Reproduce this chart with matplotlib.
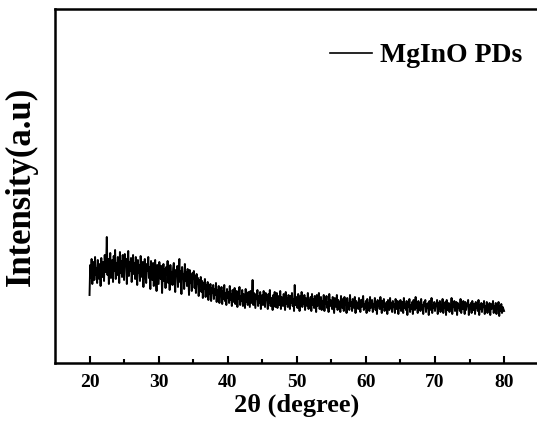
import numpy as np
import matplotlib
matplotlib.use("Agg")
import matplotlib.pyplot as plt

# XRD pattern, 20-80 deg in 0.1 deg steps (arb. units)
two_theta_start = 20.0
two_theta_step = 0.1
intensity = [
    68, 98, 85, 104, 79, 92, 101, 83, 106, 88,
    95, 80, 103, 90, 84, 99, 77, 105, 93, 86,
    101, 82, 108, 91, 97, 126, 88, 104, 79, 99,
    110, 85, 96, 103, 81, 107, 92, 113, 84, 100,
    88, 106, 95, 80, 111, 90, 102, 86, 108, 94,
    83, 109, 97, 104, 79, 99, 112, 87, 101, 92,
    105, 81, 96, 108, 89, 100, 84, 106, 93, 78,
    103, 90, 98, 82, 107, 94, 86, 101, 76, 97,
    104, 88, 80, 99, 92, 106, 85, 96, 74, 102,
    91, 83, 100, 77, 95, 103, 86, 72, 98, 89,
    79, 101, 93, 84, 97, 70, 90, 99, 82, 94,
    75, 96, 88, 102, 80, 92, 73, 98, 86, 91,
    78, 95, 100, 83, 71, 93, 87, 97, 76, 90,
    104, 81, 92, 69, 96, 85, 89, 74, 99, 82,
    91, 77, 94, 86, 68, 93, 80, 88, 72, 90,
    84, 92, 75, 87, 70, 89, 79, 85, 67, 83,
    77, 86, 71, 82, 65, 80, 74, 84, 66, 78,
    72, 81, 63, 76, 69, 79, 62, 75, 70, 78,
    64, 74, 68, 80, 61, 73, 66, 77, 60, 71,
    67, 76, 59, 72, 64, 78, 62, 70, 58, 74,
    65, 71, 60, 77, 63, 69, 57, 73, 66, 61,
    75, 59, 68, 72, 56, 70, 64, 76, 58, 67,
    62, 73, 57, 69, 65, 55, 74, 61, 68, 58,
    71, 63, 56, 72, 60, 66, 83, 58, 70, 62,
    55, 69, 64, 73, 57, 67, 60, 71, 54, 65,
    68, 58, 72, 61, 56, 70, 63, 66, 54, 69,
    60, 73, 57, 65, 62, 53, 68, 59, 71, 56,
    64, 70, 55, 67, 61, 58, 72, 54, 66, 60,
    57, 69, 63, 53, 71, 59, 65, 56, 68, 62,
    54, 67, 60, 70, 57, 64, 52, 78, 58, 66,
    61, 55, 69, 63, 52, 67, 58, 71, 56, 64,
    59, 68, 53, 65, 62, 57, 70, 54, 63, 60,
    66, 52, 69, 58, 64, 55, 67, 61, 51, 68,
    57, 63, 70, 54, 60, 66, 53, 62, 58, 68,
    52, 64, 59, 67, 55, 61, 51, 69, 57, 63,
    60, 54, 66, 58, 50, 65, 62, 56, 68, 53,
    63, 57, 61, 51, 67, 59, 55, 64, 52, 66,
    58, 62, 50, 65, 56, 60, 53, 68, 57, 61,
    52, 64, 59, 55, 66, 50, 62, 57, 60, 54,
    65, 58, 51, 63, 56, 61, 67, 53, 59, 55,
    62, 50, 64, 57, 60, 52, 66, 55, 58, 63,
    51, 59, 56, 65, 53, 61, 49, 63, 57, 60,
    54, 66, 58, 50, 62, 56, 64, 52, 59, 55,
    61, 49, 63, 57, 53, 65, 55, 60, 51, 62,
    56, 59, 50, 64, 54, 58, 62, 49, 60, 55,
    63, 52, 57, 61, 50, 65, 55, 59, 53, 62,
    48, 60, 56, 64, 51, 58, 54, 61, 49, 63,
    57, 53, 66, 55, 59, 50, 62, 56, 60, 52,
    64, 54, 58, 49, 61, 57, 63, 51, 59, 55,
    60, 48, 62, 56, 53, 65, 50, 58, 55, 61,
    52, 59, 57, 63, 49, 60, 54, 62, 51, 58,
    56, 64, 50, 59, 55, 61, 48, 63, 53, 57,
    60, 51, 58, 54, 65, 49, 59, 56, 62, 52,
    57, 61, 48, 60, 55, 58, 52, 64, 50, 59,
    54, 62, 56, 49, 61, 53, 59, 57, 63, 48,
    58, 55, 60, 50, 62, 56, 53, 59, 49, 61,
    55, 57, 52, 63, 48, 58, 54, 60, 51, 59,
    56, 62, 49, 57, 53, 61, 50, 58, 55, 60,
    48, 59, 54, 56, 62, 50, 57, 53, 60, 49,
    58, 55, 61, 47, 57, 52, 59, 50, 56, 54,
    52,
]
two_theta = two_theta_start + two_theta_step * np.arange(len(intensity))

x_ticks = [20, 30, 40, 50, 60, 70, 80]
x_minor = [25, 35, 45, 55, 65, 75]
series_name = "MgInO PDs"

plt.rcParams["font.family"] = ["Liberation Serif", "DejaVu Serif"]
plt.rcParams["font.weight"] = "bold"

fig = plt.figure(figsize=(5.37, 4.26), dpi=100)
ax = fig.add_axes([0.1024, 0.1479, 0.9006, 0.831])

ax.plot(two_theta, intensity, color="black", lw=1.4, label=series_name)

ax.set_xlim(15, 85)
ax.set_ylim(0, 354)
ax.set_xticks(x_ticks)
ax.set_xticks(x_minor, minor=True)
ax.set_yticks([])
ax.tick_params(axis="x", which="major", direction="in", length=5, width=1.5,
               labelsize=14, pad=8)
ax.tick_params(axis="x", which="minor", direction="in", length=3, width=1.5)
for lab in ax.get_xticklabels():
    lab.set_fontweight("bold")

for side in ["left", "top", "bottom"]:
    ax.spines[side].set_linewidth(1.8)
ax.spines["right"].set_visible(False)

ax.set_xlabel("2\u03b8 (degree)", fontsize=19, fontweight="bold", labelpad=2)
ax.set_ylabel("Intensity(a.u)", fontsize=25, fontweight="bold", labelpad=12)

leg = ax.legend(loc="upper right", bbox_to_anchor=(1.018, 0.975), frameon=False,
                prop={"size": 20, "weight": "bold"}, handlelength=1.5,
                handletextpad=0.3)
leg.get_lines()[0].set_linewidth(1.2)

fig.savefig("out.png", dpi=100)
